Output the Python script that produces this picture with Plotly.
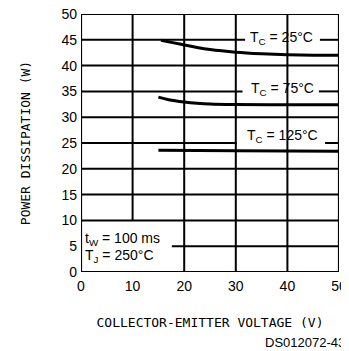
import plotly.graph_objects as go

# curves
v_25 = [15.5, 17.5, 20, 22.5, 25, 30, 35, 40, 45, 50]
p_25 = [44.9, 44.5, 44.0, 43.5, 43.1, 42.6, 42.3, 42.1, 42.0, 42.0]
v_75 = [15, 17, 20, 22.5, 25, 30, 40, 50]
p_75 = [33.9, 33.4, 32.95, 32.7, 32.55, 32.45, 32.4, 32.4]
v_125 = [15, 30, 50]
p_125 = [23.6, 23.5, 23.4]

x_ticks = [0, 10, 20, 30, 40, 50]
y_ticks = [0, 5, 10, 15, 20, 25, 30, 35, 40, 45, 50]

# where the datasheet grid is broken by the labels (value -> (from, to))
h_gaps = {45: (31.8, 46.3), 35: (31.3, 46.1), 25: (30.2, 47.3), 5: (0, 17.6)}
v_gaps = {10: (0, 10)}

curve_labels = [
    (38.9, 45, "T<sub>C</sub> = 25°C", 2),
    (39.0, 35, "T<sub>C</sub> = 75°C", 2),
    (39.0, 25, "T<sub>C</sub> = 125°C", 7),
]

xmin, xmax = x_ticks[0], x_ticks[-1]
ymin, ymax = y_ticks[0], y_ticks[-1]

# grid lines, built from the tick values
gx, gy = [], []
for y in y_ticks[1:-1]:
    a, b = h_gaps.get(y, (None, None))
    if a is None:
        gx += [xmin, xmax, None]; gy += [y, y, None]
    else:
        if a > xmin:
            gx += [xmin, a, None]; gy += [y, y, None]
        gx += [b, xmax, None]; gy += [y, y, None]
for x in x_ticks[1:-1]:
    a, b = v_gaps.get(x, (None, None))
    gx += [x, x, None]
    gy += [ymin if a is None else b, ymax, None]

fig = go.Figure()
fig.add_trace(go.Scatter(x=gx, y=gy, mode="lines", line=dict(color="black", width=2),
                         showlegend=False, hoverinfo="skip"))
fig.add_trace(go.Scatter(x=[xmin, xmax, xmax, xmin, xmin], y=[ymin, ymin, ymax, ymax, ymin],
                         mode="lines", line=dict(color="black", width=2.2), cliponaxis=False,
                         showlegend=False, hoverinfo="skip"))
for xs, ys in [(v_25, p_25), (v_75, p_75), (v_125, p_125)]:
    fig.add_trace(go.Scatter(x=xs, y=ys, mode="lines", line=dict(color="black", width=3, shape="spline"),
                             showlegend=False, hoverinfo="skip"))

lab_font = dict(family="Liberation Sans", size=14, color="black")
for x, y, txt, dy in curve_labels:
    fig.add_annotation(x=x, y=y, text=txt, showarrow=False, yanchor="middle", yshift=dy,
                       font=lab_font)

fig.add_annotation(x=0.4, y=6.6, xanchor="left", yanchor="middle", yshift=-1, showarrow=False,
                   font=lab_font, text="t<sub>W</sub> = 100 ms")
fig.add_annotation(x=0.4, y=3.2, xanchor="left", yanchor="middle", yshift=-1, showarrow=False,
                   font=lab_font, text="T<sub>J</sub> = 250°C")

fig.add_annotation(xref="paper", yref="paper", x=1.03, y=-0.238, xanchor="right", yanchor="top",
                   text="DS012072-43", showarrow=False,
                   font=dict(family="Liberation Sans", size=13, color="black"))

axis_common = dict(showgrid=False, showline=False, zeroline=False, ticks="", automargin=False,
                   ticklabeloverflow="allow",
                   tickfont=dict(family="Liberation Sans", size=14, color="black"))
fig.update_xaxes(range=[xmin, xmax], tickvals=x_ticks, ticklabelstandoff=4,
                 title=dict(text="COLLECTOR-EMITTER VOLTAGE (V)", standoff=24,
                            font=dict(family="DejaVu Sans Mono", size=13, color="black")),
                 **axis_common)
fig.update_yaxes(range=[ymin, ymax], tickvals=y_ticks, ticklabelstandoff=3,
                 title=dict(text="POWER DISSIPATION (W)", standoff=27,
                            font=dict(family="DejaVu Sans Mono", size=13, color="black")),
                 **axis_common)
# page body keeps an 8px margin, so the figure is 8px smaller than the window
fig.update_layout(width=341, height=343, margin=dict(l=73, r=10, t=6, b=79),
                  plot_bgcolor="white", paper_bgcolor="white")
fig.write_html("out.html")
